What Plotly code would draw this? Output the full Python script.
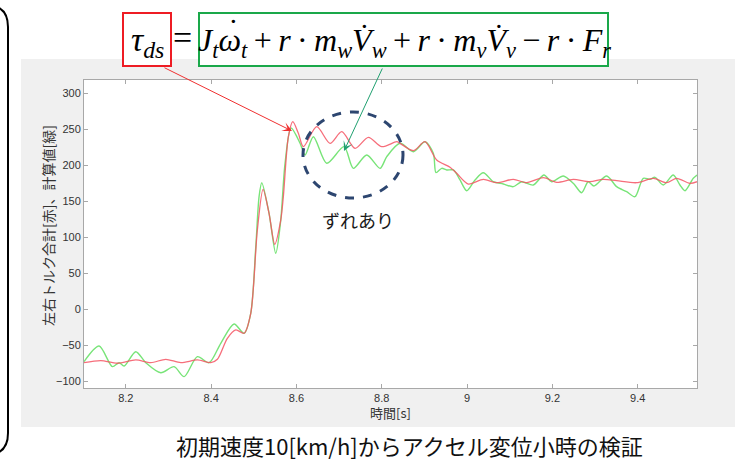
import plotly.graph_objects as go

# ---------------- data ----------------
green_t = [8.102, 8.1374, 8.1686, 8.1843, 8.1960, 8.2234, 8.2469, 8.2820, 8.3132, 8.3366,
           8.3678, 8.3952, 8.4226, 8.4538, 8.4772, 8.4929, 8.5047, 8.5124, 8.5187, 8.5358,
           8.5515, 8.5628, 8.5733, 8.5874, 8.6085, 8.6202, 8.6397, 8.6711, 8.7116, 8.7334,
           8.7648, 8.7960, 8.8117, 8.8428, 8.8740, 8.9014, 8.9209, 8.9272, 8.9406, 8.9523,
           8.9678, 8.9835, 8.9992, 9.0186, 9.0381, 9.0615, 9.0849, 9.1084, 9.1280, 9.1552,
           9.1803, 9.1983, 9.2255, 9.2490, 9.2687, 9.2841, 9.2975, 9.3273, 9.3507, 9.3741,
           9.3936, 9.4130, 9.4287, 9.4405, 9.4599, 9.4833, 9.4990, 9.5108, 9.5303, 9.539]
green_v = [-72.8, -51.0, -79.7, -74.2, -78.8, -58.9, -74.2, -88.1, -79.7, -93.6,
           -65.8, -74.2, -47.2, -20.4, -33.3, -5.5, 87.1, 156.6, 176.0, 133.5,
           77.9, 121.4, 203.0, 252.0, 230.8, 214.5, 240.0, 203.0, 226.1, 196.0,
           214.5, 196.0, 212.2, 230.8, 219.1, 233.0, 216.9, 190.0, 196.0, 193.7,
           193.7, 179.8, 164.9, 179.8, 189.9, 177.4, 174.2, 170.5, 177.4, 172.8,
           186.7, 177.4, 185.3, 175.2, 162.1, 177.4, 171.4, 185.3, 170.5, 163.5,
           156.6, 182.1, 180.7, 183.5, 172.8, 186.7, 172.8, 164.9, 182.1, 186.7]

red_t = [8.102, 8.1414, 8.1803, 8.2234, 8.2586, 8.2937, 8.3289, 8.3678, 8.3992, 8.4147,
         8.4381, 8.4578, 8.4772, 8.4929, 8.5084, 8.5218, 8.5358, 8.5492, 8.5633, 8.5693,
         8.5811, 8.5914, 8.6045, 8.6162, 8.6476, 8.6788, 8.7062, 8.7374, 8.7686, 8.8000,
         8.8351, 8.8428, 8.8740, 8.9014, 8.9288, 8.9600, 8.9757, 9.0029, 9.0381, 9.0695,
         9.1084, 9.1398, 9.1787, 9.2101, 9.2490, 9.2881, 9.3193, 9.3507, 9.3976, 9.4365,
         9.4679, 9.4913, 9.5225, 9.539]
red_v = [-74.2, -71.4, -75.0, -70.4, -74.2, -69.5, -74.2, -70.4, -74.2, -69.5,
         -40.3, -28.7, -33.3, -5.5, 110.3, 166.8, 133.5, 90.4, 124.2, 156.6,
         240.0, 260.8, 244.7, 226.1, 253.9, 230.8, 246.9, 223.8, 239.1, 226.1,
         233.0, 230.8, 220.5, 233.0, 207.6, 197.4, 189.1, 174.2, 180.7, 176.0,
         180.7, 176.0, 183.0, 176.6, 180.7, 177.4, 180.7, 178.8, 176.0, 182.1,
         176.0, 182.1, 175.2, 177.4]

x_ticks = [8.2, 8.4, 8.6, 8.8, 9.0, 9.2, 9.4]
x_tick_labels = ["8.2", "8.4", "8.6", "8.8", "9", "9.2", "9.4"]
y_ticks = [-100, -50, 0, 50, 100, 150, 200, 250, 300]

x_title = "時間[s]"
y_title = "左右トルク合計[赤]、計算値[緑]"
caption = "初期速度10[km/h]からアクセル変位小時の検証"
note = "ずれあり"

# ---------------- layout geometry ----------------
FW, FH = 743, 460
L, R, T, B = 84, 46, 80, 72
PW, PH = FW - L - R, FH - T - B


def px(x):
    return (x - L) / PW


def py(y):
    return (FH - B - y) / PH


fig = go.Figure()
fig.add_trace(go.Scatter(x=green_t, y=green_v, mode="lines",
                         line=dict(color="rgb(120,228,120)", width=1.4, shape="spline", smoothing=0.8),
                         hoverinfo="skip", showlegend=False))
fig.add_trace(go.Scatter(x=red_t, y=red_v, mode="lines", opacity=0.85,
                         line=dict(color="rgb(245,85,100)", width=1.3, shape="spline", smoothing=0.8),
                         hoverinfo="skip", showlegend=False))

shapes = []
# figure grey background
shapes.append(dict(type="rect", xref="paper", yref="paper", layer="below",
                   x0=px(21), x1=px(735), y0=py(427), y1=py(59),
                   fillcolor="#f0f0f0", line=dict(width=0)))
# white plot area
shapes.append(dict(type="rect", xref="paper", yref="paper", layer="below",
                   x0=0, x1=1, y0=0, y1=1, fillcolor="white", line=dict(width=0)))
# left rounded bracket
pts = [("M", -30, 5), ("L", -14, 5), ("Q", 8, 5, 8, 27), ("L", 8, 433), ("Q", 8, 455, -14, 455), ("L", -30, 455)]
path = ""
for p in pts:
    if p[0] == "Q":
        path += f"Q{px(p[1]):.5f},{py(p[2]):.5f} {px(p[3]):.5f},{py(p[4]):.5f} "
    else:
        path += f"{p[0]}{px(p[1]):.5f},{py(p[2]):.5f} "
shapes.append(dict(type="path", xref="paper", yref="paper", path=path,
                   line=dict(color="black", width=2)))
# equation boxes
shapes.append(dict(type="rect", xref="paper", yref="paper",
                   x0=px(123), x1=px(171), y0=py(66), y1=py(13),
                   fillcolor="white", line=dict(color="#ee1c24", width=2)))
shapes.append(dict(type="rect", xref="paper", yref="paper",
                   x0=px(199), x1=px(608), y0=py(66), y1=py(13),
                   fillcolor="white", line=dict(color="#1aa84a", width=2)))
# dashed ellipse
shapes.append(dict(type="circle", xref="paper", yref="paper",
                   x0=px(303), x1=px(403), y0=py(198), y1=py(112),
                   line=dict(color="#2d4670", width=3, dash="dash")))

serif = "Liberation Serif, Times New Roman, serif"
cjk = "Noto Sans CJK JP"
sp = "\u2009"


def txt(x, y, text, font, **kw):
    d = dict(x=px(x), y=py(y), xref="paper", yref="paper", showarrow=False, text=text,
             xanchor="center", yanchor="middle", font=font)
    d.update(kw)
    return d


eq_right = ("<i>J</i><sub><i>t</i></sub><i>ω</i><sub><i>t</i></sub>" + sp + "+" + sp +
            "<i>r</i>" + sp + "·" + sp + "<i>m</i><sub><i>w</i></sub><i>V̇</i><sub><i>w</i></sub>" + sp + "+" + sp +
            "<i>r</i>" + sp + "·" + sp + "<i>m</i><sub><i>v</i></sub><i>V̇</i><sub><i>v</i></sub>" + sp + "−" + sp +
            "<i>r</i>" + sp + "·" + sp + "<i>F</i><sub><i>r</i></sub>")

annotations = [
    txt(147, 42, "<i>τ</i><sub><i>ds</i></sub>", dict(family=serif, size=34, color="black")),
    txt(182, 38, "=", dict(family=serif, size=34, color="black")),
    txt(404, 42, eq_right, dict(family=serif, size=32, color="black")),
    txt(233, 30, "˙", dict(family=serif, size=32, color="black")),
    # arrows
    dict(x=px(292), y=py(131), xref="paper", yref="paper", showarrow=True, text="",
         ax=163 - 292, ay=67 - 131, arrowhead=3, arrowsize=1.6, arrowwidth=1, arrowcolor="#f03030"),
    dict(x=px(344), y=py(151), xref="paper", yref="paper", showarrow=True, text="",
         ax=383 - 344, ay=67 - 151, arrowhead=3, arrowsize=1.6, arrowwidth=1, arrowcolor="#20a070"),
    txt(358, 220, note, dict(family=cjk, size=18, color="#1a1a1a")),
    txt(391, 412, x_title, dict(family=cjk, size=13, color="#333333")),
    txt(48, 226, y_title, dict(family=cjk, size=14, color="#333333"), textangle=-90),
    txt(410, 445, caption, dict(family=cjk, size=22, color="#111111")),
]

axis_common = dict(showgrid=False, zeroline=False, showline=True, linecolor="#a8a8a8", linewidth=1,
                   mirror="ticks", ticks="inside", ticklen=4, tickcolor="#a8a8a8",
                   tickfont=dict(family="Liberation Sans, Arial", size=11, color="#333333"))

fig.update_layout(
    width=FW, height=FH, autosize=False,
    margin=dict(l=L, r=R, t=T, b=B, pad=0),
    paper_bgcolor="white", plot_bgcolor="rgba(0,0,0,0)",
    shapes=shapes, annotations=annotations,
    xaxis=dict(range=[8.102, 9.539], tickmode="array", tickvals=x_ticks, ticktext=x_tick_labels, **axis_common),
    yaxis=dict(range=[-109.4, 318.8], tickmode="array", tickvals=y_ticks, **axis_common),
)

fig.write_html("out.html", config={"displayModeBar": False},
               post_script="document.body.style.margin='0px';")
